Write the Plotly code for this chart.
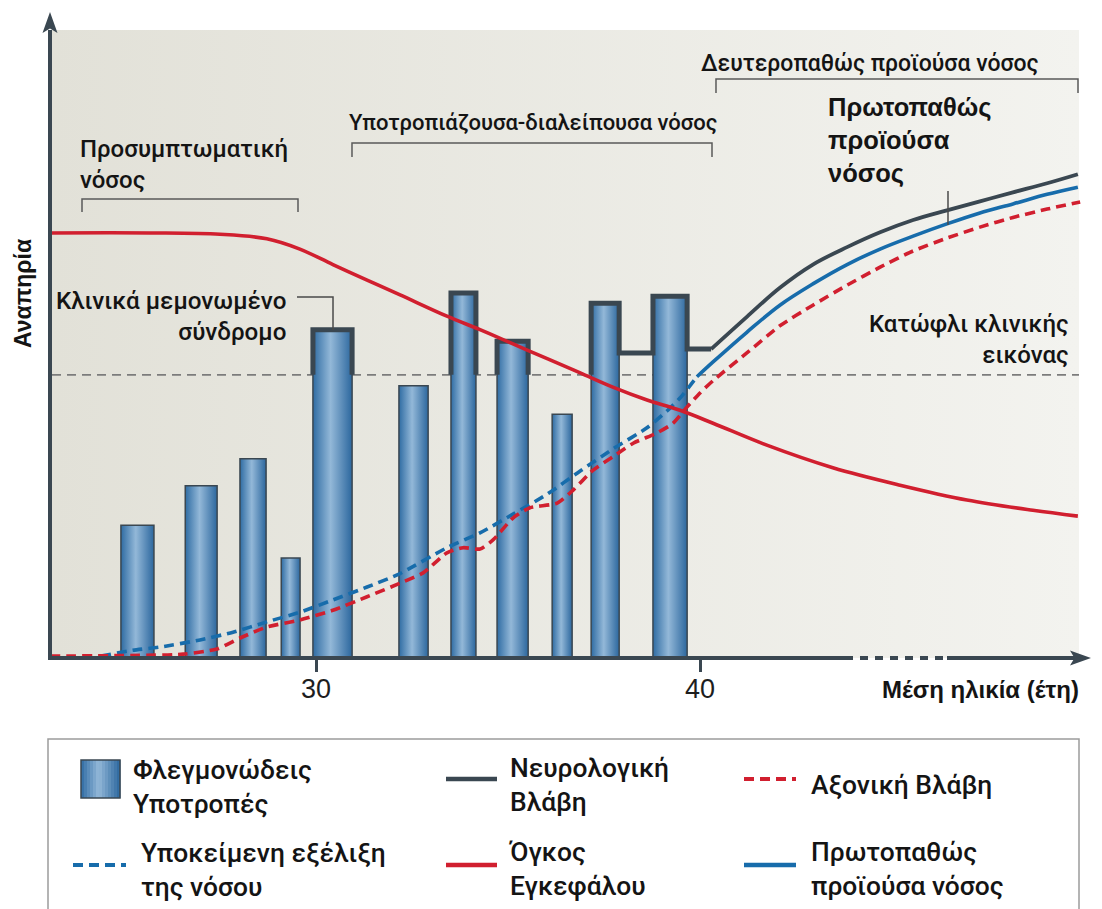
import plotly.graph_objects as go

# ------------------------------------------------------------------ data
relapse_age = [25.35, 27.01, 28.36, 29.34, 30.43, 32.54, 33.84, 35.12, 36.41, 37.53, 39.22]
relapse_duration = [0.86, 0.83, 0.68, 0.49, 1.02, 0.76, 0.65, 0.81, 0.52, 0.73, 0.89]
relapse_height = [20.6, 26.7, 30.9, 15.5, 50.9, 42.2, 56.6, 49.1, 37.8, 55.0, 56.1]
relapse_residual = [None, None, None, None, None, None, None, None, None, 47.3, 47.9]
clinical_threshold = 43.9

neuro_age = [40.29, 41.22, 42.08, 42.94, 43.83, 44.69, 45.55, 46.43, 47.29, 48.15, 49.04, 49.84]
neuro_level = [47.9, 52.9, 57.4, 61.0, 63.7, 66.0, 67.9, 69.4, 70.8, 72.2, 73.6, 75.0]

ppms_age = [39.92, 40.34, 41.22, 42.08, 42.94, 43.83, 44.69, 45.55, 46.43, 47.29, 48.15, 49.04, 49.84]
ppms_level = [43.6, 45.9, 50.5, 54.7, 58.0, 61.0, 63.4, 65.4, 67.3, 69.0, 70.4, 71.9, 73.0]

underlying_age = [24.40, 25.23, 25.94, 26.98, 27.84, 28.72, 29.58, 30.44, 31.33, 32.19, 33.41,
                  34.27, 35.13, 36.02, 36.88, 37.73, 38.62, 39.14, 39.48, 39.92]
underlying_level = [0.3, 1.2, 1.7, 2.8, 4.0, 5.6, 7.1, 9.0, 11.0, 13.1, 17.1,
                    19.4, 22.3, 25.4, 29.0, 32.4, 35.7, 38.3, 40.3, 43.6]

axonal_age = [23.07, 26.54, 27.42, 28.02, 28.72, 29.58, 30.44, 31.33, 32.19, 32.79, 33.41, 33.83,
              34.27, 34.61, 35.13, 35.57, 36.28, 36.69, 37.21, 37.73, 38.26, 38.88, 39.30, 39.66,
              40.00, 40.34, 41.22, 42.08, 42.94, 43.83, 44.69, 45.55, 46.43, 47.29, 48.15, 49.04, 49.90]
axonal_level = [0.3, 0.6, 1.4, 3.1, 4.8, 5.9, 7.4, 9.5, 11.6, 13.2, 16.3, 17.1,
                16.9, 18.3, 21.7, 23.3, 24.0, 26.0, 29.1, 31.2, 33.3, 34.9, 36.4, 38.9,
                41.1, 43.0, 47.3, 51.5, 54.7, 57.8, 60.6, 63.1, 65.1, 66.8, 68.3, 69.6, 70.7]

brain_age = [23.07, 25.68, 27.50, 28.72, 29.58, 30.44, 31.33, 32.19, 33.41, 34.27, 35.13, 36.02, 36.88,
             37.73, 38.62, 39.48, 40.34, 41.74, 43.46, 45.21, 46.95, 48.67, 49.84]
brain_level = [65.9, 65.9, 65.7, 65.0, 63.4, 61.0, 58.6, 56.3, 53.0, 50.9, 48.7, 46.4, 44.2,
               42.0, 40.0, 38.4, 36.4, 33.0, 29.5, 26.8, 24.5, 22.9, 22.0]

tick_vals = [30, 40]
tick_text = ["30", "40"]

# ------------------------------------------------------------------ style / layout helpers
FONT = "Liberation Sans, Arial, sans-serif"
MFONT = "Roboto, Liberation Sans, Arial, sans-serif"
DARK = "#3a4751"
RED = "#d11f2f"
BLUE = "#176cab"
TXT = "#141414"
BAR_SCALE = [[0, "#2f6ca3"], [0.45, "#93b8d8"], [1, "#2c679e"]]

# the page body has an 8px margin, so the figure is laid out 8px in from the window corner
W, H = 1094, 901
ML, MR, MT, MB = 42, 12, 5, 251


def X(px):
    return 30 + (px - 316) / 38.4


def Y(py):
    return (658 - py) / 6.45


def PX(px):
    return (px - 50) / 1040


def PY(py):
    return (658 - py) / 645


def path(pts, close=False):
    s = "M " + " L ".join(f"{PX(a):.5f},{PY(b):.5f}" for a, b in pts)
    return s + (" Z" if close else "")


fig = go.Figure()

# background panel with horizontal gradient
fig.add_trace(go.Scatter(
    x=[X(52), X(1079), X(1079), X(52), X(52)], y=[0, 0, Y(30), Y(30), 0],
    mode="lines", fill="toself", fillcolor="#eae9e2",
    fillgradient=dict(type="horizontal", colorscale=[[0, "#e2e1d8"], [1, "#f3f3ef"]]),
    line=dict(width=0), hoverinfo="skip", showlegend=False))

# clinical threshold
fig.add_trace(go.Scatter(
    x=[X(52), X(1079)], y=[clinical_threshold, clinical_threshold], mode="lines",
    line=dict(color="#7c7c7c", width=1.6, dash="9px,6px"), hoverinfo="skip", showlegend=False))

# relapse bars
for a, w, h in zip(relapse_age, relapse_duration, relapse_height):
    x0, x1 = a - w / 2, a + w / 2
    fig.add_trace(go.Scatter(
        x=[x0, x0, x1, x1, x0], y=[0, h, h, 0, 0], mode="lines", fill="toself",
        fillcolor="#4f8cc0",
        fillgradient=dict(type="horizontal", colorscale=BAR_SCALE),
        line=dict(color=DARK, width=1.5), hoverinfo="skip", showlegend=False))

# underlying progression (blue dashed)
fig.add_trace(go.Scatter(x=underlying_age, y=underlying_level, mode="lines",
                         line=dict(color=BLUE, width=3.6, dash="10px,6px", shape="spline", smoothing=0.6),
                         hoverinfo="skip", showlegend=False))
# axonal damage (red dashed)
fig.add_trace(go.Scatter(x=axonal_age, y=axonal_level, mode="lines",
                         line=dict(color=RED, width=3.6, dash="10px,6px", shape="spline", smoothing=0.6),
                         hoverinfo="skip", showlegend=False))
# primary progressive (blue solid)
fig.add_trace(go.Scatter(x=ppms_age, y=ppms_level, mode="lines",
                         line=dict(color=BLUE, width=3.6, shape="spline"),
                         hoverinfo="skip", showlegend=False))

# neurological damage: outline of relapses above threshold + progressive curve
sx, sy = [], []
prev = None
for a, w, h, res in zip(relapse_age, relapse_duration, relapse_height, relapse_residual):
    if h <= clinical_threshold:
        continue
    x0, x1 = a - w / 2, a + w / 2
    if prev is None and sx:
        sx.append(None)
        sy.append(None)
    start = prev if prev is not None else clinical_threshold
    sx += [x0, x0, x1, x1]
    sy += [start, h, h, res if res is not None else clinical_threshold]
    prev = res
sx.append(neuro_age[0])
sy.append(neuro_level[0])
fig.add_trace(go.Scatter(x=sx, y=sy, mode="lines", line=dict(color=DARK, width=5),
                         connectgaps=False, hoverinfo="skip", showlegend=False))
fig.add_trace(go.Scatter(x=neuro_age, y=neuro_level, mode="lines",
                         line=dict(color=DARK, width=3.8, shape="spline"),
                         hoverinfo="skip", showlegend=False))

# brain volume (red solid)
fig.add_trace(go.Scatter(x=brain_age, y=brain_level, mode="lines",
                         line=dict(color=RED, width=3.6, shape="spline"),
                         hoverinfo="skip", showlegend=False))

# ------------------------------------------------------------------ shapes
shapes = []


def line(p0, p1, color=DARK, width=4, dash=None):
    shapes.append(dict(type="line", xref="paper", yref="paper",
                       x0=PX(p0[0]), y0=PY(p0[1]), x1=PX(p1[0]), y1=PY(p1[1]),
                       line=dict(color=color, width=width, dash=dash), layer="above"))


def poly(pts, color=None, fill=None, width=1.5, close=False):
    shapes.append(dict(type="path", xref="paper", yref="paper", path=path(pts, close),
                       line=dict(color=color or "rgba(0,0,0,0)", width=width if color else 0),
                       fillcolor=fill or "rgba(0,0,0,0)", layer="above"))


# axes
line((50, 660), (50, 30))
line((48, 658), (845, 658))
line((845, 658), (947, 658), dash="8px,7px")
line((947, 658), (1076, 658))
poly([(50, 12), (57.5, 33), (50, 28.5), (42.5, 33)], fill=DARK, close=True)
poly([(1091, 658), (1070, 650.5), (1074.5, 658), (1070, 665.5)], fill=DARK, close=True)

# phase brackets
BR = "#5a5a5a"
poly([(82, 212), (82, 199), (298, 199), (298, 212)], color=BR)
poly([(352, 157), (352, 143), (712, 143), (712, 157)], color=BR)
poly([(716, 93), (716, 79), (1078, 79), (1078, 93)], color=BR)
# leader lines
poly([(297, 297), (333, 297), (333, 330)], color="#4a4a4a")
poly([(948, 191), (948, 225)], color="#4a4a4a")

# legend frame
shapes.append(dict(type="rect", xref="paper", yref="paper",
                   x0=PX(48), y0=PY(739), x1=PX(1079), y1=PY(925),
                   line=dict(color="#9c9c9c", width=1.5), fillcolor="white", layer="below"))


def hexmix(c1, c2, t):
    a = [int(c1[i:i + 2], 16) for i in (1, 3, 5)]
    b = [int(c2[i:i + 2], 16) for i in (1, 3, 5)]
    return "#" + "".join(f"{round(u + (v - u) * t):02x}" for u, v in zip(a, b))


def scale_color(t):
    for (p0, c0), (p1, c1) in zip(BAR_SCALE[:-1], BAR_SCALE[1:]):
        if p0 <= t <= p1:
            return hexmix(c0, c1, (t - p0) / (p1 - p0))
    return BAR_SCALE[-1][1]


# legend bar icon (gradient strips)
n = 13
bx0, bx1, by0, by1 = 81, 120, 760, 798
for i in range(n):
    a = bx0 + (bx1 - bx0) * i / n
    b = bx0 + (bx1 - bx0) * (i + 1) / n
    shapes.append(dict(type="rect", xref="paper", yref="paper", x0=PX(a), x1=PX(b) + 0.0004,
                       y0=PY(by1), y1=PY(by0), line=dict(width=0),
                       fillcolor=scale_color((i + 0.5) / n), layer="above"))
shapes.append(dict(type="rect", xref="paper", yref="paper", x0=PX(bx0), x1=PX(bx1),
                   y0=PY(by1), y1=PY(by0), line=dict(color=DARK, width=1.5), layer="above"))

line((446, 779), (497, 779), color=DARK, width=4.5)
line((744, 779), (796, 779), color=RED, width=4, dash="10px,6px")
line((73, 865), (126, 865), color=BLUE, width=4, dash="10px,6px")
line((446, 865), (497, 865), color=RED, width=4.5)
line((744, 865), (796, 865), color=BLUE, width=4.5)

# ------------------------------------------------------------------ annotations
ann = []


def txt(s, px, py, size, anchor="left", bold=False, angle=0, color=TXT, weight=500):
    ann.append(dict(text=s, xref="paper", yref="paper", x=PX(px), y=PY(py),
                    xanchor=anchor, yanchor="middle", showarrow=False, textangle=angle,
                    align=anchor if anchor != "center" else "center",
                    font=dict(family=FONT if bold else MFONT, size=size, color=color,
                              weight="bold" if bold else weight)))


txt("Προσυμπτωματική<br>νόσος", 78, 164, 24)
txt("Υποτροπιάζουσα-διαλείπουσα νόσος", 533, 122, 22, anchor="center")
txt("Δευτεροπαθώς προϊούσα νόσος", 870, 64, 23, anchor="center")
txt("Πρωτοπαθώς<br>προϊούσα<br>νόσος", 826, 140, 25.5, bold=True)
txt("Κατώφλι κλινικής<br>εικόνας", 1071, 339.5, 24, anchor="right")
txt("Κλινικά μεμονωμένο<br>σύνδρομο", 288, 316, 24.2, anchor="right")
txt("Αναπηρία", 23, 294, 23, bold=True, angle=-90, anchor="center")
txt("Μέση ηλικία (έτη)", 1081, 689, 24, bold=True, anchor="right")

LS = 26.4
txt("Φλεγμονώδεις<br>Υποτροπές", 131, 786.5, LS)
txt("Νευρολογική<br>Βλάβη", 508, 785, LS)
txt("Αξονική Βλάβη", 809, 785, LS)
txt("Υποκείμενη εξέλιξη<br>της νόσου", 139, 869.5, LS)
txt("Όγκος<br>Εγκεφάλου", 507, 869, LS)
txt("Πρωτοπαθώς<br>προϊούσα νόσος", 809, 869, LS)

fig.update_layout(
    width=W, height=H, margin=dict(l=ML, r=MR, t=MT, b=MB),
    paper_bgcolor="white", plot_bgcolor="white",
    shapes=shapes, annotations=ann, showlegend=False,
    font=dict(family=FONT, color=TXT),
    xaxis=dict(range=[X(50), X(1090)], tickvals=tick_vals, ticktext=tick_text,
               ticks="outside", ticklen=13, tickwidth=3, tickcolor=DARK,
               tickfont=dict(family=FONT, size=27, color="#1e1e1e"), ticklabelstandoff=-6,
               showline=False, showgrid=False, zeroline=False, fixedrange=True),
    yaxis=dict(range=[0, Y(13)], visible=False, fixedrange=True),
)

fig.write_html("out.html")
